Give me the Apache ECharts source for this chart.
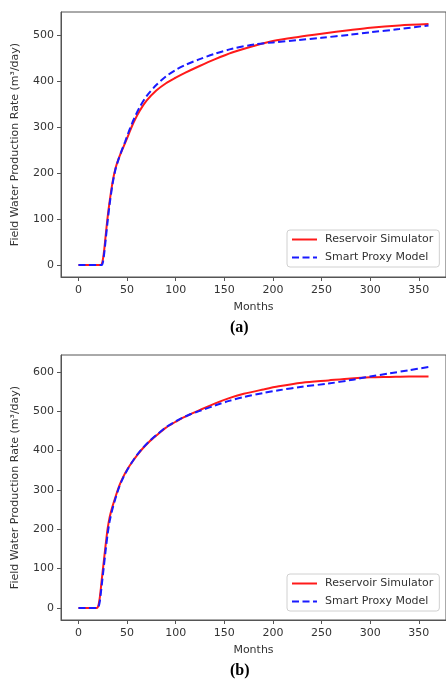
<!DOCTYPE html>
<html>
<head>
<meta charset="utf-8">
<script src="https://cdn.jsdelivr.net/npm/echarts@6/dist/echarts.min.js"></script>
<style>
html,body{margin:0;padding:0;background:#fff;}
#c{width:446px;height:679px;}
</style>
</head>
<body>
<div id="c"></div>
<script>
// ---- Data ----
const xTicks = [0, 50, 100, 150, 200, 250, 300, 350];
const yTicksA = [0, 100, 200, 300, 400, 500];
const yTicksB = [0, 100, 200, 300, 400, 500, 600];

// Panel (a)
const simMonthsA = [0, 10, 22, 24, 26, 28, 30, 32, 35, 38, 41, 44, 48, 52, 57, 63, 70, 80, 90, 100, 110, 124, 140, 158, 180, 200, 226, 250, 280, 300, 330, 360];
const simRateA   = [0, 0, 0, 2, 25, 65, 105, 138, 180, 210, 230, 246, 266, 287, 312, 336, 358, 380, 396, 408, 419, 433, 448, 463, 477, 488, 497, 504, 512, 517, 522, 525];
const proxyMonthsA = [0, 10, 22, 24, 26, 28, 30, 32, 35, 38, 41, 44, 48, 52, 57, 63, 70, 80, 90, 100, 110, 124, 140, 158, 182, 200, 226, 250, 280, 300, 330, 360];
const proxyRateA   = [0, 0, 0, 0, 18, 56, 96, 132, 176, 208, 229, 247, 269, 292, 318, 344, 368, 392, 411, 425, 436, 448, 460, 471, 481, 485, 490, 495, 502, 507, 514, 522];

// Panel (b)
const simMonthsB = [0, 10, 19, 20, 21, 22, 23, 24, 26, 28, 30, 32, 35, 38, 42, 46, 50, 55, 60, 66, 73, 80, 90, 100, 107, 115, 124, 140, 155, 170, 190, 206, 230, 257, 280, 300, 320, 340, 360];
const simRateB   = [0, 0, 0, 3, 12, 28, 50, 74, 118, 162, 202, 230, 258, 282, 311, 333, 351, 370, 387, 405, 423, 438, 458, 473, 483, 492, 502, 519, 533, 544, 555, 563, 572, 578, 583, 586, 587, 588, 588];
const proxyMonthsB = [0, 10, 19, 20, 21, 22, 23, 24, 26, 28, 30, 32, 35, 38, 42, 46, 50, 55, 60, 66, 73, 80, 90, 100, 107, 115, 124, 140, 155, 170, 190, 206, 230, 257, 280, 291, 300, 320, 340, 360];
const proxyRateB   = [0, 0, 0, 1, 6, 18, 38, 60, 104, 148, 188, 220, 252, 278, 308, 331, 350, 370, 388, 406, 424, 439, 459, 474, 483, 492, 500, 514, 526, 536, 546, 553, 562, 570, 579, 584, 588, 596, 604, 612];

const seriesNames = ['Reservoir Simulator', 'Smart Proxy Model'];
const yName = 'Field Water Production Rate (m\u00B3/day)';

function pairs(xs, ys) { return xs.map((x, i) => [x, ys[i]]); }

const font = 'DejaVu Sans';
const axisColor = '#555';
const textColor = '#333';

function xAxisCfg(gridIndex) {
  return {
    type: 'value', gridIndex: gridIndex, min: -18, max: 378,
    name: 'Months', nameLocation: 'middle', nameGap: 25,
    nameTextStyle: { fontFamily: font, fontSize: 11, color: textColor },
    axisLine: { show: true, onZero: false, lineStyle: { color: axisColor, width: 1 } },
    axisTick: { show: true, inside: false, length: 4, customValues: xTicks, lineStyle: { color: axisColor } },
    axisLabel: { customValues: xTicks, margin: 8, fontFamily: font, fontSize: 11, color: textColor },
    splitLine: { show: false }
  };
}
function yAxisCfg(gridIndex, min, max, ticks) {
  return {
    type: 'value', gridIndex: gridIndex, min: min, max: max,
    name: yName, nameLocation: 'middle', nameGap: 40,
    nameTextStyle: { fontFamily: font, fontSize: 11, color: textColor },
    axisLine: { show: true, onZero: false, lineStyle: { color: axisColor, width: 1 } },
    axisTick: { show: true, inside: false, length: 4, customValues: ticks, lineStyle: { color: axisColor } },
    axisLabel: { customValues: ticks, margin: 7, fontFamily: font, fontSize: 11, color: textColor },
    splitLine: { show: false }
  };
}
function legendCfg(top) {
  return {
    data: seriesNames, orient: 'vertical', left: 287, top: top,
    backgroundColor: '#fff', borderColor: '#d0d0d0', borderWidth: 1, borderRadius: 3,
    padding: [4, 6, 4, 4], itemWidth: 25, itemHeight: 12, itemGap: 7,
    itemStyle: { opacity: 0, borderWidth: 0 },
    textStyle: { fontFamily: font, fontSize: 11, color: textColor, padding: [0, 0, 0, 3] },
    selectedMode: false
  };
}
function lineSeries(name, data, xi, yi, color, dashed) {
  return {
    type: 'line', name: name, data: data, xAxisIndex: xi, yAxisIndex: yi,
    smooth: 0.3, symbol: 'none', showSymbol: false, animation: false,
    lineStyle: { color: color, width: 2, type: dashed ? [7, 3.5] : 'solid' },
    itemStyle: { color: color },
    z: dashed ? 3 : 2
  };
}

const chart = echarts.init(document.getElementById('c'), null, { renderer: 'canvas' });
chart.setOption({
  backgroundColor: '#fff',
  animation: false,
  grid: [
    { left: 61, top: 12, width: 387, height: 265, show: true, borderColor: axisColor, borderWidth: 1, containLabel: false },
    { left: 61, top: 355, width: 387, height: 265, show: true, borderColor: axisColor, borderWidth: 1, containLabel: false }
  ],
  xAxis: [xAxisCfg(0), xAxisCfg(1)],
  yAxis: [yAxisCfg(0, -26.25, 551.25, yTicksA), yAxisCfg(1, -30.6, 642.6, yTicksB)],
  legend: [legendCfg(230), legendCfg(574)],
  series: [
    lineSeries(seriesNames[0], pairs(simMonthsA, simRateA), 0, 0, '#ff1a1a', false),
    lineSeries(seriesNames[1], pairs(proxyMonthsA, proxyRateA), 0, 0, '#1a1aff', true),
    lineSeries(seriesNames[0], pairs(simMonthsB, simRateB), 1, 1, '#ff1a1a', false),
    lineSeries(seriesNames[1], pairs(proxyMonthsB, proxyRateB), 1, 1, '#1a1aff', true)
  ],
  graphic: [
    { type: 'text', left: 230, top: 320, style: { text: '(a)', font: 'bold 16px "Liberation Serif"', fill: '#000' } },
    { type: 'text', left: 230, top: 663, style: { text: '(b)', font: 'bold 16px "Liberation Serif"', fill: '#000' } }
  ]
});
</script>
</body>
</html>
